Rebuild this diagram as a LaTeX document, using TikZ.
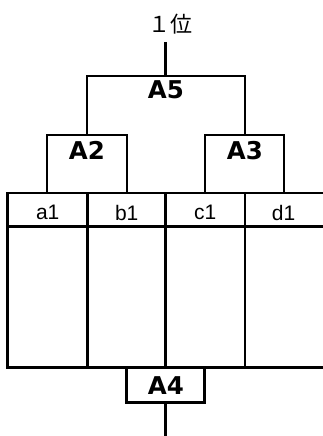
\documentclass[tikz,border=0pt]{standalone}
\usepackage{fontspec}
\setmainfont{Liberation Sans}
\newfontfamily\cjkfont{Noto Sans CJK JP}
\newfontfamily\boldlat{DejaVu Sans}
\begin{document}
\begin{tikzpicture}[x=1pt,y=-1pt,
  ln/.style={line width=2.8pt},
  big/.style={font=\boldlat\fontsize{24.5}{25}\selectfont\bfseries, inner sep=0pt},
  cell/.style={font=\fontsize{21}{22}\selectfont, inner sep=0pt},
  top/.style={font=\cjkfont\fontsize{22}{23}\selectfont, inner sep=0pt}]
\useasboundingbox (0,0) rectangle (322,436);
% labels
\node[top] (rank) at (170,24) {１位};
\node[big] (A5) at (166,90) {A5};
\node[big] (A2) at (87,150.5) {A2};
\node[big] (A3) at (245,150.5) {A3};
\node[big] (A4) at (166,386) {A4};
\node[cell] (a1) at (47.7,212.5) {a1};
\node[cell] (b1) at (126.7,212.5) {b1};
\node[cell] (c1) at (205.3,212.5) {c1};
\node[cell] (d1) at (283.5,212.5) {d1};
% key coordinates
\coordinate (rtop) at (165.7,42);
\coordinate (r5) at (165.7,76);
\coordinate (l5) at (87,76);
\coordinate (rr5) at (245,76);
\coordinate (l5b) at (87,135);
\coordinate (rr5b) at (245,135);
\coordinate (a2l) at (47,135);
\coordinate (a2r) at (127,135);
\coordinate (a3l) at (205,135);
\coordinate (a3r) at (284,135);
\coordinate (a2lb) at (47,193);
\coordinate (a2rb) at (127,193);
\coordinate (a3lb) at (205,193);
\coordinate (a3rb) at (284,193);
\coordinate (tl) at (7.7,193);
\coordinate (tr) at (323,193);
\coordinate (hl) at (7.7,226.7);
\coordinate (hr) at (323,226.7);
\coordinate (bl) at (7.7,367.7);
\coordinate (br) at (323,367.7);
\coordinate (c1t) at (87.7,193);
\coordinate (c1b) at (87.7,367.7);
\coordinate (c2t) at (165.7,193);
\coordinate (c2b) at (165.7,367.7);
\coordinate (c3t) at (245,193);
\coordinate (c3b) at (245,367.7);
\coordinate (a4l) at (126.7,367.7);
\coordinate (a4r) at (204.3,367.7);
\coordinate (a4lb) at (126.7,402.7);
\coordinate (a4rb) at (204.3,402.7);
\coordinate (a4m) at (165.7,402.7);
\coordinate (bot) at (165.7,437);
% tree
\draw[ln] (rtop) -- (r5);
\draw[ln] (l5b) -- (l5) -- (rr5) -- (rr5b);
\draw[ln] (a2lb) -- (a2l) -- (a2r) -- (a2rb);
\draw[ln] (a3lb) -- (a3l) -- (a3r) -- (a3rb);
% table
\draw[ln] (tr) -- (tl) -- (bl) -- (br);
\draw[ln] (hl) -- (hr);
\draw[ln] (c1t) -- (c1b);
\draw[ln] (c2t) -- (c2b);
\draw[ln] (c3t) -- (c3b);
% A4
\draw[ln] (a4l) -- (a4lb) -- (a4rb) -- (a4r);
\draw[ln] (a4m) -- (bot);
\end{tikzpicture}
\end{document}
